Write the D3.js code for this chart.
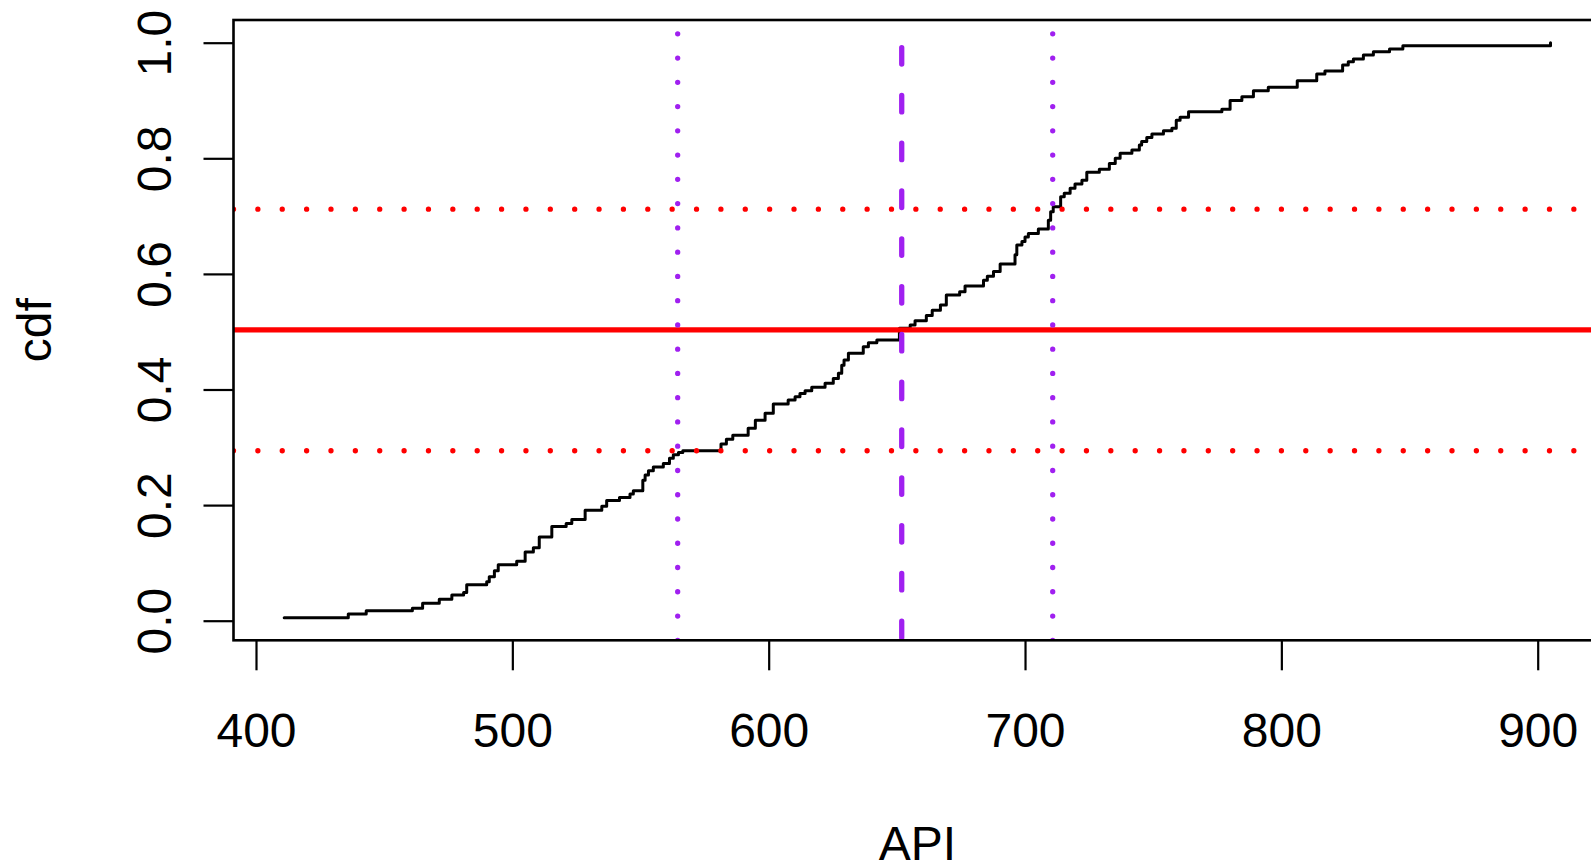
<!DOCTYPE html>
<html>
<head>
<meta charset="utf-8">
<script src="https://cdn.jsdelivr.net/npm/d3@7"></script>
<style>
  body { margin: 0; background: #fff; }
  svg text { font-family: "Liberation Sans", Arial, sans-serif; fill: #000; }
</style>
</head>
<body>
<svg id="plot" width="1591" height="866"></svg>
<script>
const apiValues = [
  411, 436, 443, 461, 465, 471.5, 476.4, 481, 482.2, 490,
  491, 493, 494.5, 501.7, 505, 508.2, 510.5, 515.4, 521, 523.2,
  528.4, 534.9, 536.8, 541.8, 545.9, 547.2, 550.9, 551.8, 553.1, 555,
  558.9, 561.3, 562.8, 564.8, 566.5, 581.4, 583.5, 586, 592, 594.8,
  598.6, 601.8, 607.6, 610.3, 612.2, 614.2, 616.8, 622, 625.2, 627.2,
  628.5, 629.4, 631.1, 636.9, 638.9, 642.2, 651, 655.2, 657.1, 661.5,
  663.8, 667, 669.3, 674.5, 676.6, 683.8, 685.3, 687.7, 690.3, 696.1,
  696.8, 698.8, 700, 701.3, 705.2, 709.1, 710, 711, 713.9, 715.3,
  717.6, 719.5, 722.2, 724.1, 729, 732.9, 735.2, 737.1, 741.7, 744.6,
  745.5, 747.5, 749.5, 754, 757.3, 759, 760.5, 763.8, 776.8, 780,
  784.6, 789.1, 794.9, 806.2, 813.8, 817, 823.9, 826.1, 828.1, 832,
  835.9, 842.2, 847.4, 905
];
const cdfValues = [
  0.005, 0.0116, 0.0173, 0.0214, 0.030, 0.037, 0.0445, 0.049, 0.062, 0.0675,
  0.076, 0.0865, 0.097, 0.103, 0.119, 0.126, 0.145, 0.163, 0.168, 0.175,
  0.191, 0.198, 0.208, 0.213, 0.219, 0.225, 0.243, 0.252, 0.2595, 0.266,
  0.272, 0.281, 0.287, 0.291, 0.294, 0.3057, 0.314, 0.321, 0.333, 0.347,
  0.359, 0.375, 0.382, 0.3875, 0.393, 0.398, 0.404, 0.411, 0.419, 0.428,
  0.442, 0.451, 0.4626, 0.474, 0.481, 0.4856, 0.506, 0.5116, 0.519, 0.528,
  0.537, 0.546, 0.5635, 0.569, 0.579, 0.589, 0.596, 0.604, 0.617, 0.633,
  0.650, 0.656, 0.664, 0.670, 0.6777, 0.693, 0.7076, 0.716, 0.7336, 0.7394,
  0.748, 0.7555, 0.762, 0.7758, 0.781, 0.791, 0.800, 0.8087, 0.8144, 0.823,
  0.829, 0.836, 0.842, 0.8478, 0.852, 0.866, 0.871, 0.8806, 0.885, 0.900,
  0.9066, 0.917, 0.9228, 0.934, 0.946, 0.951, 0.9614, 0.967, 0.9718, 0.9787,
  0.9844, 0.989, 0.9948, 1.0
];

const xTicks = [400, 500, 600, 700, 800, 900];
const yTicks = [0, 0.2, 0.4, 0.6, 0.8, 1.0];
const yTickLabels = ['0.0', '0.2', '0.4', '0.6', '0.8', '1.0'];

// reference lines
const hSolid = [0.503];          // red, solid
const hDotted = [0.294, 0.712];  // red, dotted
const vDashed = [651.9];         // purple, dashed
const vDotted = [564.5, 710.8];  // purple, dotted

const xLabel = 'API';
const yLabel = 'cdf';

main();

function main () {
  const svg = d3.select('svg#plot');

  // plot region (R usr box)
  const box = { left: 233.5, right: 1601.5, top: 20, bottom: 640.3 };
  const fontSize = '48px';

  const x = d3.scaleLinear().domain([400, 900]).range([256, 1537.7]);
  const y = d3.scaleLinear().domain([0, 1]).range([620.7, 42.7]);

  svg.append('clipPath').attr('id', 'clip')
    .append('rect')
    .attr('x', box.left)
    .attr('y', box.top)
    .attr('width', box.right - box.left)
    .attr('height', box.bottom - box.top);

  const plot = svg.append('g').attr('clip-path', 'url(#clip)');

  // ecdf step line
  const points = apiValues.map((v, i) => [v, cdfValues[i]]);
  const line = d3.line()
    .x(d => x(d[0]))
    .y(d => y(d[1]))
    .curve(d3.curveStepAfter);
  plot.append('path')
    .datum(points)
    .attr('d', line)
    .attr('fill', 'none')
    .attr('stroke', '#000')
    .attr('stroke-width', 3)
    .attr('stroke-linejoin', 'round')
    .attr('stroke-linecap', 'round');

  // horizontal red lines, drawn from the left of the box
  plot.selectAll('line.hsolid').data(hSolid).join('line')
    .attr('class', 'hsolid')
    .attr('x1', box.left).attr('x2', box.right)
    .attr('y1', d => y(d)).attr('y2', d => y(d))
    .attr('stroke', '#FF0000')
    .attr('stroke-width', 5.3);

  plot.selectAll('line.hdot').data(hDotted).join('line')
    .attr('class', 'hdot')
    .attr('x1', box.left).attr('x2', box.right)
    .attr('y1', d => y(d)).attr('y2', d => y(d))
    .attr('stroke', '#FF0000')
    .attr('stroke-width', 5.3)
    .attr('stroke-linecap', 'round')
    .attr('stroke-dasharray', '0.01 24.36');

  // vertical purple lines, drawn from the bottom of the box
  plot.selectAll('line.vdash').data(vDashed).join('line')
    .attr('class', 'vdash')
    .attr('x1', d => x(d)).attr('x2', d => x(d))
    .attr('y1', box.bottom).attr('y2', box.top)
    .attr('stroke', '#A020F0')
    .attr('stroke-width', 5.3)
    .attr('stroke-linecap', 'round')
    .attr('stroke-dasharray', '16.5 31.3')
    .attr('stroke-dashoffset', -2.6);

  plot.selectAll('line.vdot').data(vDotted).join('line')
    .attr('class', 'vdot')
    .attr('x1', d => x(d)).attr('x2', d => x(d))
    .attr('y1', box.bottom).attr('y2', box.top)
    .attr('stroke', '#A020F0')
    .attr('stroke-width', 5.3)
    .attr('stroke-linecap', 'round')
    .attr('stroke-dasharray', '0.01 24.25');

  // box
  svg.append('rect')
    .attr('x', box.left)
    .attr('y', box.top)
    .attr('width', box.right - box.left)
    .attr('height', box.bottom - box.top)
    .attr('fill', 'none')
    .attr('stroke', '#000')
    .attr('stroke-width', 2.6);

  // x axis
  const xAxis = svg.append('g')
    .attr('transform', `translate(0,${box.bottom})`)
    .call(d3.axisBottom(x).tickValues(xTicks).tickSize(30).tickFormat(d3.format('d')));
  xAxis.select('.domain').remove();
  xAxis.selectAll('line').attr('stroke', '#000').attr('stroke-width', 2.2);
  xAxis.selectAll('text')
    .attr('y', 106.5)
    .attr('dy', null)
    .attr('fill', '#000')
    .style('font-size', fontSize);

  // y axis
  const yAxis = svg.append('g')
    .attr('transform', `translate(${box.left},0)`)
    .call(d3.axisLeft(y).tickValues(yTicks).tickSize(30).tickFormat((d, i) => yTickLabels[i]));
  yAxis.select('.domain').remove();
  yAxis.selectAll('line').attr('stroke', '#000').attr('stroke-width', 2.2);
  yAxis.selectAll('text')
    .attr('x', null)
    .attr('dy', null)
    .attr('text-anchor', 'middle')
    .attr('transform', 'translate(-63,0) rotate(-90)')
    .attr('fill', '#000')
    .style('font-size', fontSize);

  // axis titles
  svg.append('text').text(xLabel)
    .attr('x', (box.left + box.right) / 2)
    .attr('y', 860)
    .attr('text-anchor', 'middle')
    .style('font-size', fontSize);

  svg.append('text').text(yLabel)
    .attr('transform', `translate(51,${(box.top + box.bottom) / 2}) rotate(-90)`)
    .attr('text-anchor', 'middle')
    .style('font-size', fontSize);
}
</script>
</body>
</html>
